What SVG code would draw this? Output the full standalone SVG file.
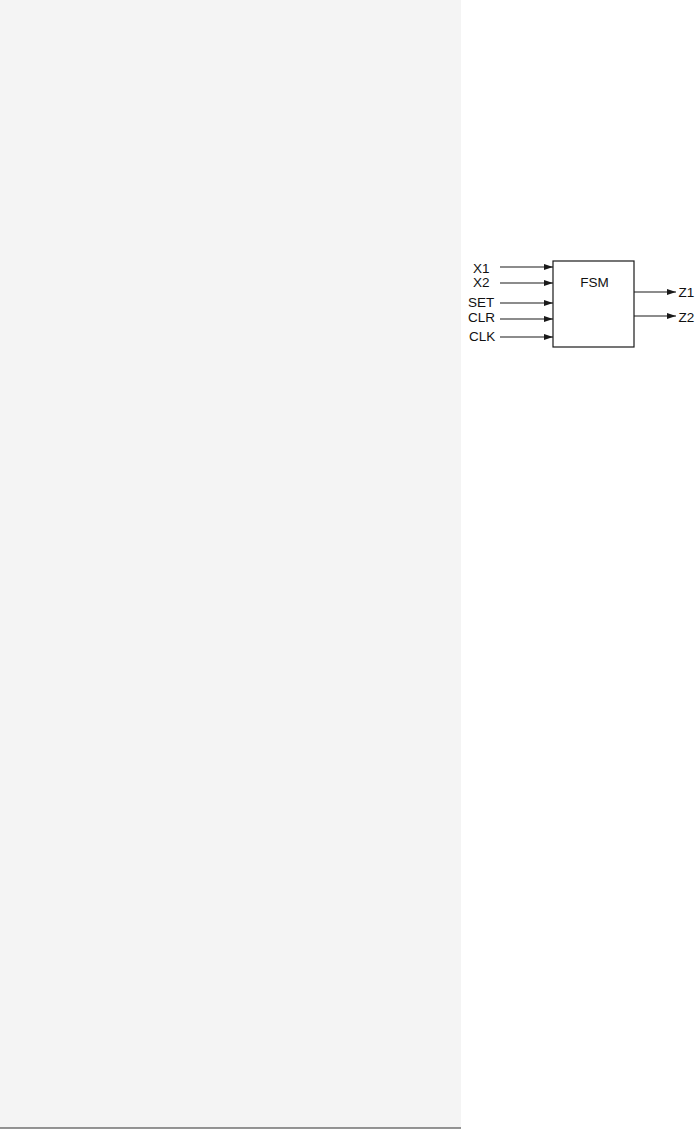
<svg xmlns="http://www.w3.org/2000/svg" width="695" height="1129" viewBox="0 0 695 1129">
<defs>
<style>
.lbl{font-family:"Liberation Sans",Arial,sans-serif;font-size:13.5px;fill:#111}
.wire{stroke:#1a1a1a;stroke-width:1.2;fill:none}
</style>
<marker id="ah" markerWidth="9" markerHeight="6" refX="9" refY="3" orient="auto" markerUnits="userSpaceOnUse">
<path d="M0,0 L9,3 L0,6 Z" fill="#1a1a1a"/>
</marker>
</defs>
<rect x="0" y="0" width="695" height="1129" fill="#fff"/>
<rect x="0" y="0" width="461" height="1128" fill="#f4f4f4"/>
<line x1="0" y1="1128" x2="461" y2="1128" stroke="#707070" stroke-width="1.5"/>
<g id="fsm">
<rect x="553" y="261" width="81" height="86" fill="#fff" stroke="#1a1a1a" stroke-width="1.2"/>
<text class="lbl" x="594.5" y="287" text-anchor="middle">FSM</text>
</g>
<g id="labels">
<text class="lbl" x="473" y="273">X1</text>
<text class="lbl" x="473" y="287">X2</text>
<text class="lbl" x="468" y="307">SET</text>
<text class="lbl" x="468" y="322">CLR</text>
<text class="lbl" x="469" y="341">CLK</text>
<text class="lbl" x="678.5" y="297">Z1</text>
<text class="lbl" x="678.5" y="322">Z2</text>
</g>
<g id="connectors">
<line class="wire" x1="500" y1="267" x2="553" y2="267" marker-end="url(#ah)"/>
<line class="wire" x1="500" y1="283" x2="553" y2="283" marker-end="url(#ah)"/>
<line class="wire" x1="500" y1="303" x2="553" y2="303" marker-end="url(#ah)"/>
<line class="wire" x1="500" y1="319" x2="553" y2="319" marker-end="url(#ah)"/>
<line class="wire" x1="500" y1="337" x2="553" y2="337" marker-end="url(#ah)"/>
<line class="wire" x1="634" y1="292" x2="676" y2="292" marker-end="url(#ah)"/>
<line class="wire" x1="634" y1="316" x2="676" y2="316" marker-end="url(#ah)"/>
</g>
</svg>
